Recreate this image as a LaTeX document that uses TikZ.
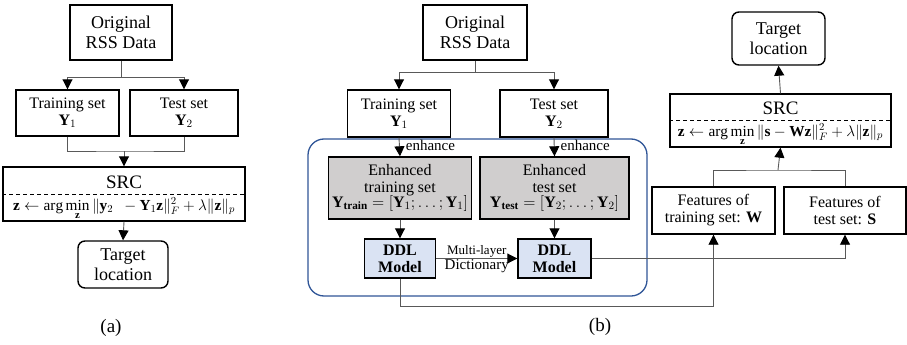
\RequirePackage{fix-cm}
\documentclass[tikz,border=0pt]{standalone}
\usepackage{fontspec}
\setmainfont{Liberation Serif}
\usepackage{amsmath}
\usetikzlibrary{arrows.meta,calc}
\definecolor{boxgray}{RGB}{208,206,206}
\definecolor{boxblue}{RGB}{218,227,243}
\definecolor{frameblue}{RGB}{47,85,151}
\begin{document}
\begin{tikzpicture}[x=1pt,y=-1pt,
  box/.style={draw=black,line width=1.4pt,inner sep=1pt,align=center,font=\fontsize{16}{17}\selectfont},
  big/.style={font=\fontsize{18}{20}\selectfont},
  conn/.style={draw=black!65,line width=0.9pt},
  arr/.style={conn,-{Triangle[length=10pt,width=10pt,color=black]}},
  grayfill/.style={fill=boxgray},
  bluefill/.style={fill=boxblue},
  formula/.style={font=\fontsize{15.3}{16}\selectfont,inner sep=0pt,anchor=base},
  lbl/.style={font=\fontsize{15}{16}\selectfont,inner sep=1pt}
]
\useasboundingbox (0,0) rectangle (907,345);
% ---------- panel (a)
\node[box,big,minimum width=102pt,minimum height=55pt] (origA) at (121,32.5) {Original\\RSS Data};
\node[box,minimum width=103pt,minimum height=46pt] (trainA) at (67.5,113) {Training set\\$\mathbf{Y}_1$};
\node[box,minimum width=108pt,minimum height=46pt] (testA) at (184,113) {Test set\\$\mathbf{Y}_2$};
\node[box,minimum width=242pt,minimum height=54pt] (srcA) at (124,194) {};
\node[font=\fontsize{19}{20}\selectfont] (srcAt) at (124,182) {SRC};
\node[formula] (srcAf) at (124,210) {$\mathbf{z}\leftarrow\arg\min\limits_{\mathbf{z}}\|\mathbf{y}_2\ \ -\mathbf{Y}_1\mathbf{z}\|_F^2+\lambda\|\mathbf{z}\|_p$};
\draw[dashed,line width=1pt,dash pattern=on 4pt off 3pt] (srcA.west) -- (srcA.east);
\node[box,big,rounded corners=7pt,minimum width=90pt,minimum height=47pt] (tgtA) at (123,264.5) {Target\\location};
\node[font=\fontsize{19}{20}\selectfont] (capA) at (111,328) {(a)};
\coordinate (ja) at (121,77);
\coordinate (jb) at (124,151);
\draw[conn] (origA.south) -- (ja);
\draw[arr] (ja) -| (trainA.north);
\draw[arr] (ja) -| (testA.north);
\draw[conn] (trainA.south) |- (jb) -| (testA.south);
\draw[arr] (jb) -- (srcA.north);
\draw[arr] (srcA.south) -- (tgtA.north);
% ---------- panel (b)
\draw[draw=frameblue,line width=1.3pt,rounded corners=16pt] (308,139) rectangle (647,296);
\node[box,big,minimum width=104pt,minimum height=55pt] (origB) at (475,32.5) {Original\\RSS Data};
\node[box,minimum width=103pt,minimum height=47pt] (trainB) at (399,113.5) {Training set\\$\mathbf{Y}_1$};
\node[box,minimum width=108pt,minimum height=47pt] (testB) at (554,113.5) {Test set\\$\mathbf{Y}_2$};
\node[box,grayfill,minimum width=143pt,minimum height=62pt] (enhTrain) at (400,188) {Enhanced\\training set\\[-2pt]$\mathbf{Y}_{\mathbf{train}}=[\mathbf{Y}_1;\ldots;\mathbf{Y}_1]$};
\node[box,grayfill,minimum width=149pt,minimum height=62pt] (enhTest) at (554.5,188) {Enhanced\\test set\\[-2pt]$\mathbf{Y}_{\mathbf{test}}=[\mathbf{Y}_2;\ldots;\mathbf{Y}_2]$};
\node[box,bluefill,font=\fontsize{16}{17}\selectfont\bfseries,minimum width=71pt,minimum height=39pt] (ddlA) at (400,258.5) {DDL\\Model};
\node[box,bluefill,font=\fontsize{16}{17}\selectfont\bfseries,minimum width=73pt,minimum height=39pt] (ddlB) at (554.5,258.5) {DDL\\Model};
\node[box,minimum width=123pt,minimum height=47pt] (featW) at (713.5,210.5) {Features of\\training set: \textbf{W}};
\node[box,minimum width=122pt,minimum height=47pt] (featS) at (845,210.5) {Features of\\test set: \textbf{S}};
\node[box,minimum width=221pt,minimum height=53pt] (srcB) at (780.5,120.5) {};
\node[font=\fontsize{19}{20}\selectfont] (srcBt) at (780.5,108) {SRC};
\node[formula] (srcBf) at (780.5,136) {$\mathbf{z}\leftarrow\arg\min\limits_{\mathbf{z}}\|\mathbf{s}-\mathbf{Wz}\|_F^2+\lambda\|\mathbf{z}\|_p$};
\draw[dashed,line width=1pt,dash pattern=on 4pt off 3pt] (srcB.west) -- (srcB.east);
\node[box,big,rounded corners=7pt,minimum width=93pt,minimum height=53pt] (tgtB) at (778.5,38.5) {Target\\location};
\node[font=\fontsize{19}{20}\selectfont] (capB) at (600,327) {(b)};
\coordinate (jc) at (475,72);
\draw[conn] (origB.south) -- (jc);
\draw[arr] (jc) -| (trainB.north);
\draw[arr] (jc) -| (testB.north);
\draw[arr] (trainB.south) -- node[lbl,right,pos=0.4,xshift=5pt] (enh1) {enhance} (enhTrain.north);
\draw[arr] (testB.south) -- node[lbl,right,pos=0.4,xshift=5pt] (enh2) {enhance} (enhTest.north);
\draw[arr] (enhTrain.south) -- (ddlA.north);
\draw[arr] (enhTest.south) -- (ddlB.north);
\draw[arr] (ddlA.east) -- node[above,inner sep=1pt,font=\fontsize{13}{14}\selectfont] (ml) {Multi-layer} node[below,inner sep=1pt,font=\fontsize{15}{16}\selectfont] (dic) {Dictionary} (ddlB.west);
\draw[arr] (ddlB.east) -| (featS.south);
\coordinate (jd) at (400,306);
\draw[arr] (ddlA.south) -- (jd) -| (featW.south);
\coordinate (je) at (778,170);
\draw[conn] (featW.north) |- (je) -| (featS.north);
\draw[arr] (je) -- (srcB.south);
\draw[arr] (srcB.north) -- (tgtB.south);
\end{tikzpicture}
\end{document}
